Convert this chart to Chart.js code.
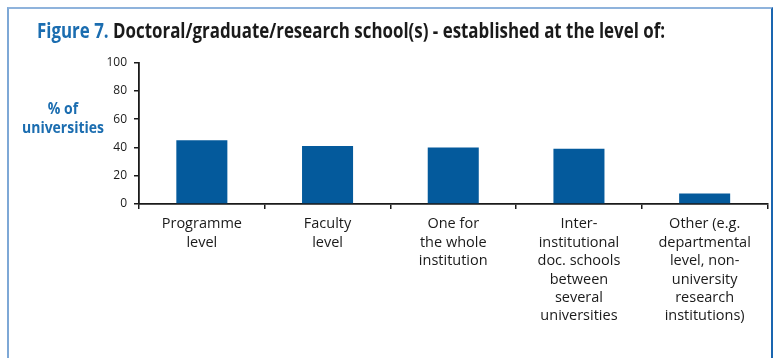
<!DOCTYPE html>
<html>
<head>
<meta charset="utf-8">
<script src="https://cdn.jsdelivr.net/npm/chart.js@4.4.1/dist/chart.umd.min.js"></script>
<style>
  html, body { margin: 0; padding: 0; background: #fff; }
  body { width: 773px; height: 358px; position: relative; overflow: hidden; font-family: "Open Sans", sans-serif; }
  #frame {
    position: absolute; left: 7px; top: 7px; width: 766px; height: 360px;
    border-left: 2px solid #7ea8d6; border-top: 2px solid #8fb3dc; border-right: 2px solid #1a66b0;
    box-sizing: border-box;
  }
  #title {
    position: absolute; left: 37px; top: 17px; white-space: nowrap;
    font-size: 21px; line-height: 26px; font-weight: 700; color: #1a1a1a;
    transform-origin: 0 0;
  }
  #title .fig { color: #1b6db0; }
  #ytitle {
    position: absolute; top: 99px; left: 63px; white-space: nowrap; text-align: center;
    font-size: 16px; line-height: 19px; font-weight: 700; color: #1b6db0;
    transform-origin: 0 0;
  }
  #wrap { position: absolute; left: 0; top: 0; width: 773px; height: 358px; }
</style>
</head>
<body>
<div id="frame"></div>
<div id="wrap"><canvas id="chart" width="773" height="358"></canvas></div>
<div id="title"><span class="fig">Figure 7.</span> Doctoral/graduate/research school(s) - established at the level of:</div>
<div id="ytitle">% of<br>universities</div>
<script>
// Where doctoral/graduate/research schools are established
const categories = [
  ["Programme", "level"],
  ["Faculty", "level"],
  ["One for", "the whole", "institution"],
  ["Inter-", "institutional", "doc. schools", "between", "several", "universities"],
  ["Other (e.g.", "departmental", "level, non-", "university", "research", "institutions)"]
];
const shareOfUniversities = [45, 41, 40, 39, 7.5];
const yMin = 0;
const yMax = 100;
const yStep = 20;

// Fit the HTML headings to their intended widths
function fitWidth(el, target, centerX) {
  const w = el.getBoundingClientRect().width;
  const s = target / w;
  el.style.transform = 'scaleX(' + s + ')';
  if (centerX !== undefined) el.style.left = (centerX - target / 2) + 'px';
}

const barBlue = '#045a9c';
const ink = '#1a1a1a';

new Chart(document.getElementById('chart'), {
  type: 'bar',
  data: {
    labels: categories,
    datasets: [{
      data: shareOfUniversities,
      backgroundColor: barBlue,
      borderWidth: 0,
      categoryPercentage: 1,
      barPercentage: 0.406
    }]
  },
  options: {
    responsive: false,
    animation: false,
    devicePixelRatio: 1,
    layout: { padding: { left: 0, top: 62.5, right: 5.5, bottom: 0 } },
    plugins: { legend: { display: false }, tooltip: { enabled: false }, title: { display: false } },
    scales: {
      x: {
        offset: true,
        grid: { display: true, drawOnChartArea: false, drawTicks: true, tickLength: 5, color: ink, lineWidth: 1.5, offset: true },
        border: { display: true, color: ink, width: 1.8 },
        ticks: {
          color: ink, padding: 6, maxRotation: 0, autoSkip: false,
          font: { family: '"Open Sans", sans-serif', size: 14.5, lineHeight: '18.4px' }
        },
        afterFit: (scale) => { scale.height = 154; }
      },
      y: {
        min: yMin, max: yMax,
        grid: { display: true, drawOnChartArea: false, drawTicks: true, tickLength: 5, color: ink, lineWidth: 1.5 },
        border: { display: true, color: ink, width: 1.8 },
        ticks: {
          stepSize: yStep, color: ink, padding: 7,
          font: { family: '"Open Sans", sans-serif', size: 12 }
        },
        afterFit: (scale) => { scale.width = 139; }
      }
    }
  }
});

fitWidth(document.getElementById('title'), 628);
fitWidth(document.getElementById('ytitle'), 82, 63);
</script>
</body>
</html>
